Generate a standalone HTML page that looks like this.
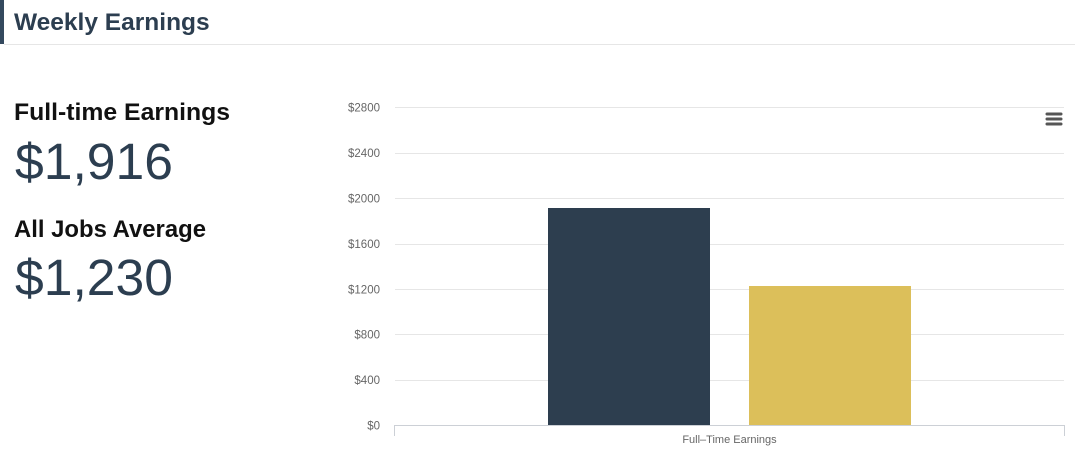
<!DOCTYPE html>
<html>
<head>
<meta charset="utf-8">
<style>
  html,body{margin:0;padding:0;background:#fff;}
  body{width:1075px;height:454px;overflow:hidden;}
  svg{display:block;}
  text{font-family:"Liberation Sans", Arial, sans-serif;}
</style>
</head>
<body>
<svg width="1075" height="454" viewBox="0 0 1075 454" xmlns="http://www.w3.org/2000/svg">
  <!-- Header -->
  <rect x="0" y="0" width="4" height="44" fill="#34495e"/>
  <line x1="4" y1="44.5" x2="1075" y2="44.5" stroke="#e6e6e6" stroke-width="1"/>
  <text x="14" y="30" font-size="24.5" font-weight="bold" fill="#2c3e50">Weekly Earnings</text>

  <!-- Left stats -->
  <text x="14" y="120" font-size="24.5" font-weight="bold" fill="#111" textLength="216" lengthAdjust="spacingAndGlyphs">Full-time Earnings</text>
  <text x="15" y="179" font-size="51" fill="#2c3e50" textLength="158" lengthAdjust="spacingAndGlyphs">$1,916</text>
  <text x="14" y="237" font-size="24.5" font-weight="bold" fill="#111" textLength="192" lengthAdjust="spacingAndGlyphs">All Jobs Average</text>
  <text x="15" y="295" font-size="51" fill="#2c3e50" textLength="158" lengthAdjust="spacingAndGlyphs">$1,230</text>

  <!-- Gridlines -->
  <g stroke="#e6e6e6" stroke-width="1">
    <line x1="395" y1="107.5" x2="1064" y2="107.5"/>
    <line x1="395" y1="153.5" x2="1064" y2="153.5"/>
    <line x1="395" y1="198.5" x2="1064" y2="198.5"/>
    <line x1="395" y1="244.5" x2="1064" y2="244.5"/>
    <line x1="395" y1="289.5" x2="1064" y2="289.5"/>
    <line x1="395" y1="334.5" x2="1064" y2="334.5"/>
    <line x1="395" y1="380.5" x2="1064" y2="380.5"/>
  </g>

  <!-- Y labels -->
  <g font-size="11.5" fill="#666" text-anchor="end">
    <text x="380" y="111.5">$2800</text>
    <text x="380" y="157">$2400</text>
    <text x="380" y="202.5">$2000</text>
    <text x="380" y="248">$1600</text>
    <text x="380" y="293.5">$1200</text>
    <text x="380" y="338.5">$800</text>
    <text x="380" y="384">$400</text>
    <text x="380" y="429.5">$0</text>
  </g>

  <!-- Bars -->
  <rect x="548" y="208" width="162" height="217.5" fill="#2d3e4f"/>
  <rect x="749" y="286" width="162" height="139.5" fill="#dcbf5a"/>

  <!-- X axis -->
  <line x1="395" y1="425.5" x2="1065" y2="425.5" stroke="#ccd0d6" stroke-width="1"/>
  <line x1="394.5" y1="425" x2="394.5" y2="436" stroke="#ccd0d6" stroke-width="1"/>
  <line x1="1064.5" y1="425" x2="1064.5" y2="436" stroke="#ccd0d6" stroke-width="1"/>
  <text x="729.5" y="443" font-size="11" fill="#666" text-anchor="middle">Full–Time Earnings</text>

  <!-- Menu icon -->
  <g stroke="#555" stroke-width="3" stroke-linecap="round">
    <line x1="1047" y1="114" x2="1061" y2="114"/>
    <line x1="1047" y1="119" x2="1061" y2="119"/>
    <line x1="1047" y1="124" x2="1061" y2="124"/>
  </g>
</svg>
</body>
</html>
